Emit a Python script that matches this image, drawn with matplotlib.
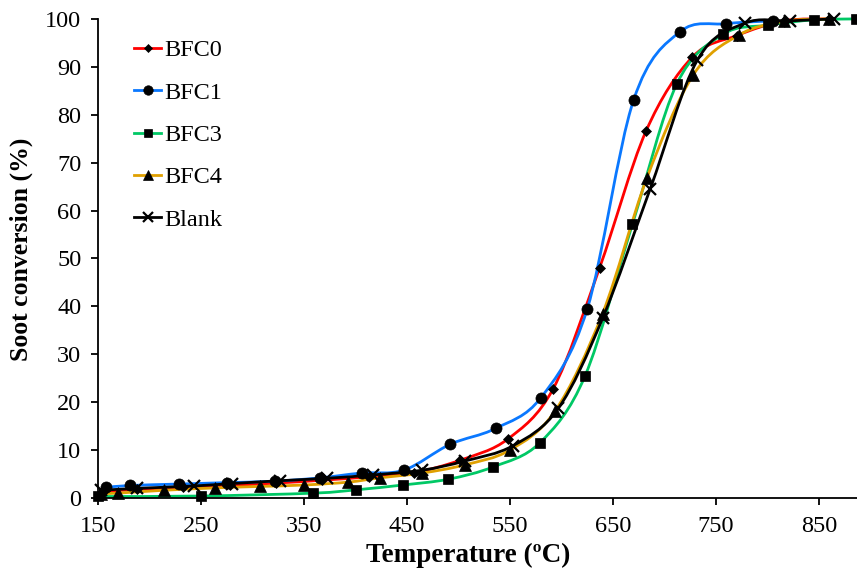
import matplotlib
matplotlib.use('Agg')
import matplotlib.pyplot as plt
from matplotlib.path import Path
from matplotlib.patches import PathPatch
from matplotlib.lines import Line2D
import numpy as np

plt.rcParams['font.family'] = ['Liberation Serif', 'DejaVu Serif']

# data
bfc0_t = [155, 188, 233, 278, 323, 368, 413, 457, 502, 548, 592, 637, 682, 727, 770, 816, 860]
bfc0_y = [1.3, 1.8, 2.2, 2.6, 3.1, 3.7, 4.4, 5.3, 7.9, 12.3, 22.8, 48.0, 76.5, 92.0, 96.5, 99.6, 100.0]

bfc1_t = [158, 181, 229, 275, 322, 366, 406, 447, 492, 536, 580, 625, 670, 715, 760, 805]
bfc1_y = [2.2, 2.6, 2.9, 3.2, 3.5, 4.2, 5.2, 5.8, 11.2, 14.5, 20.9, 39.4, 83.0, 97.3, 99.0, 99.6]

bfc3_t = [150, 250, 359, 401, 446, 490, 534, 579, 623, 669, 712, 757, 801, 845, 886]
bfc3_y = [0.3, 0.4, 1.0, 1.7, 2.7, 3.9, 6.5, 11.5, 25.5, 57.2, 86.4, 96.8, 98.7, 99.8, 100.0]

bfc4_t = [153, 169, 214, 264, 307, 350, 393, 424, 465, 506, 550, 594, 640, 683, 728, 772, 816, 860]
bfc4_y = [0.9, 1.0, 1.6, 2.1, 2.4, 2.7, 3.3, 4.2, 5.2, 6.9, 10.0, 18.2, 38.5, 66.8, 88.3, 96.6, 99.5, 100.0]

blank_t = [153, 188, 243, 280, 327, 372, 417, 465, 506, 553, 597, 640, 686, 732, 778, 822, 865]
blank_y = [1.6, 2.0, 2.5, 3.0, 3.6, 4.1, 4.8, 5.8, 7.7, 10.9, 18.7, 37.5, 64.4, 91.4, 99.1, 99.6, 100.0]

names = ['BFC0', 'BFC1', 'BFC3', 'BFC4', 'Blank']
colors = ['#FF0000', '#0A78FF', '#00C865', '#E0A000', '#000000']
markers = ['D', 'o', 's', '^', 'x']
msizes = [5, 8, 7.5, 9, 9]


def smooth_path(xs, ys):
    # excel-like smoothed line: catmull-rom as cubic bezier
    p = np.column_stack([xs, ys]).astype(float)
    n = len(p)
    verts = [p[0]]
    codes = [Path.MOVETO]
    for i in range(n - 1):
        p0 = p[i - 1] if i > 0 else p[i]
        p3 = p[i + 2] if i + 2 < n else p[i + 1]
        c1 = p[i] + (p[i + 1] - p0) / 6.0
        c2 = p[i + 1] - (p3 - p[i]) / 6.0
        verts += [c1, c2, p[i + 1]]
        codes += [Path.CURVE4] * 3
    return Path(verts, codes)


fig = plt.figure(figsize=(8.57, 5.73), dpi=100)
ax = fig.add_axes([0.1143, 0.131, 0.8857, 0.836])

series = [(bfc0_t, bfc0_y), (bfc1_t, bfc1_y), (bfc3_t, bfc3_y),
          (bfc4_t, bfc4_y), (blank_t, blank_y)]
handles = []
for (t, y), name, c, m, ms in zip(series, names, colors, markers, msizes):
    patch = PathPatch(smooth_path(t, y), facecolor='none', edgecolor=c,
                      linewidth=2.0, zorder=2, clip_on=False)
    ax.add_patch(patch)
    mew = 1.6 if m == 'x' else 0.5
    ax.plot(t, y, linestyle='none', marker=m, markersize=ms, color='k',
            markeredgewidth=mew, zorder=3, clip_on=False)
    handles.append(Line2D([], [], color=c, linewidth=2.0, marker=m,
                          markersize=ms * 0.85, markerfacecolor='k',
                          markeredgecolor='k', markeredgewidth=mew))

ax.set_xlim(150, 887)
ax.set_ylim(0, 100)
ax.set_xticks(range(150, 851, 100))
ax.set_yticks(range(0, 101, 10))
ax.spines['top'].set_visible(False)
ax.spines['right'].set_visible(False)
ax.spines['left'].set_linewidth(1.3)
ax.spines['bottom'].set_linewidth(1.3)
ax.tick_params(direction='out', length=5, width=1.3, labelsize=17.5, pad=7)
ax.tick_params(axis='x', pad=8)

ax.set_xlabel('Temperature (ºC)', fontsize=19.5, fontweight='bold')
ax.xaxis.set_label_coords(0.4875, -0.093)
ax.set_ylabel('Soot conversion (%)', fontsize=18.5, fontweight='bold')
ax.yaxis.set_label_coords(-0.086, 0.52)

leg = ax.legend(handles, names, loc='upper left', bbox_to_anchor=(0.035, 0.978),
                frameon=False, fontsize=17.5, handlelength=1.1, handletextpad=0.15,
                labelspacing=0.84, borderaxespad=0)

fig.savefig('out.png', dpi=100)
